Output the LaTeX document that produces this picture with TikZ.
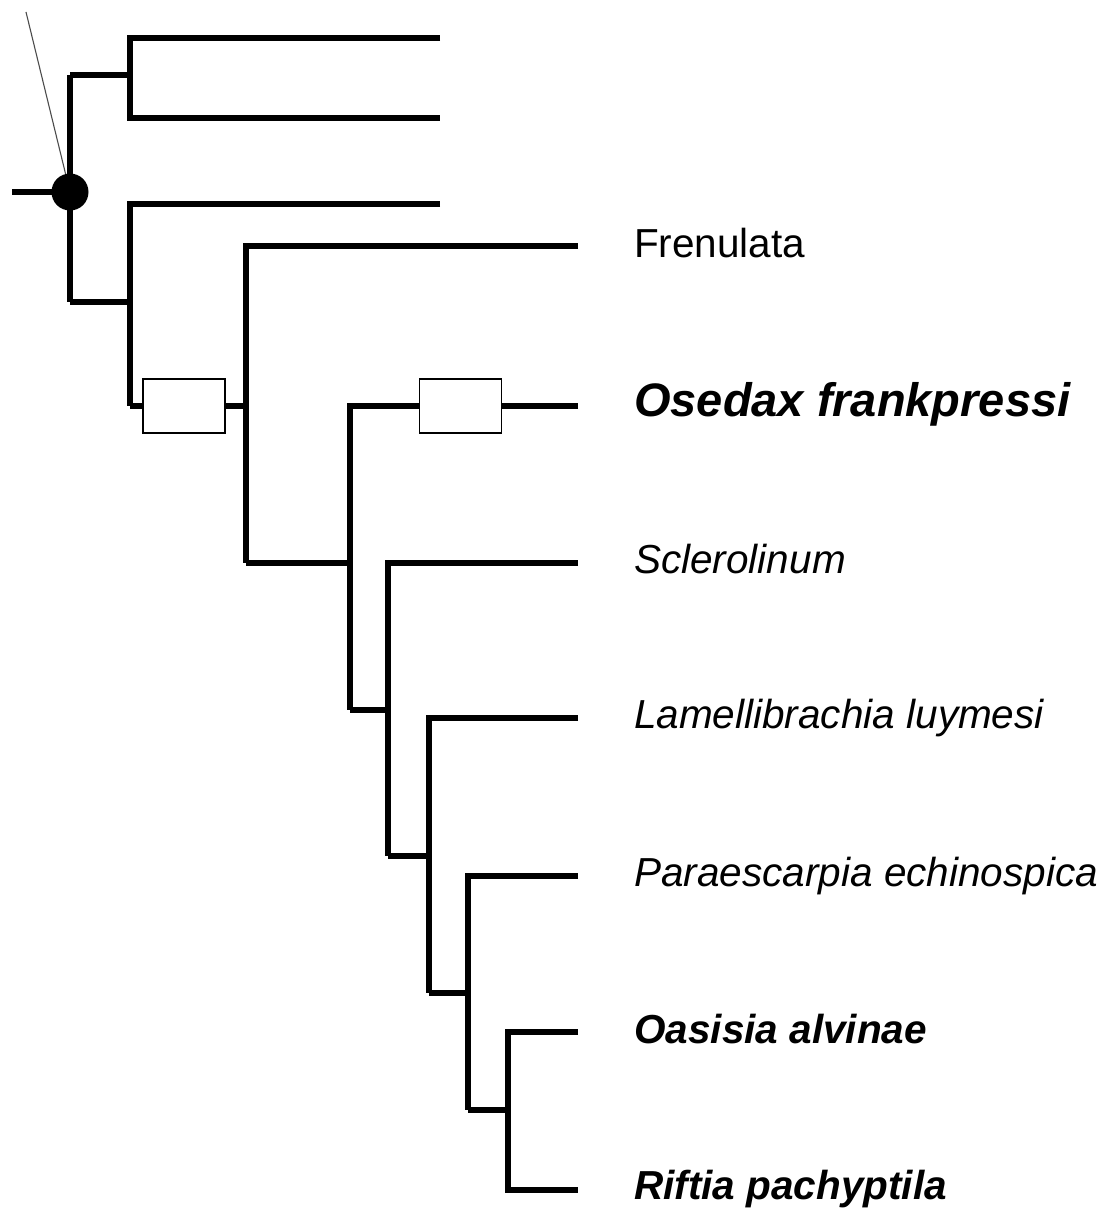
\documentclass[tikz,border=0pt]{standalone}
\usepackage{fontspec}
\setmainfont{Liberation Sans}
\begin{document}
\begin{tikzpicture}[x=1pt,y=-1pt,
  br/.style={line width=5.3pt,line join=miter,line cap=butt},
  lab/.style={anchor=base west,inner sep=0pt,font=\fontsize{40.5}{46}\selectfont},
  bigl/.style={anchor=base west,inner sep=0pt,font=\fontsize{47}{54}\selectfont\bfseries\itshape},
  charbox/.style={draw,line width=1.4pt,fill=white,minimum width=82pt,minimum height=54pt,inner sep=0pt},
  pointer/.style={line width=1.1pt,draw=black!70}]
\useasboundingbox (0,0) rectangle (1101,1209);
% internal nodes
\coordinate (R) at (70,192);
\coordinate (A) at (130,75);
\coordinate (B) at (130,302);
\coordinate (C) at (246,406);
\coordinate (D) at (350,563);
\coordinate (E) at (388,710);
\coordinate (F) at (429,856);
\coordinate (G) at (468,993);
\coordinate (H) at (508,1110);
\coordinate (stub) at (12,192);
\coordinate (ptr) at (26,12);
% tips
\coordinate (tA1) at (440,38);
\coordinate (tA2) at (440,118);
\coordinate (tB1) at (440,204);
\coordinate (tFre) at (578,246);
\coordinate (tOse) at (578,406);
\coordinate (tScl) at (578,563);
\coordinate (tLam) at (578,718);
\coordinate (tPar) at (578,876);
\coordinate (tOas) at (578,1032);
\coordinate (tRif) at (578,1190);
% pointer line
\draw[pointer] (ptr) -- (R);
% branches
\draw[br] (stub) -- (R);
\draw[br] (R |- A) -- (R |- B);
\draw[br] (R |- A) -- (A);
\draw[br] (R |- B) -- (B);
\draw[br] (tA1) -| (A) |- (tA2);
\draw[br] (tB1) -| (B |- C);
\draw[br] (B |- C) -- (C);
\draw[br] (tFre) -| (C |- D);
\draw[br] (C |- D) -- (D);
\draw[br] (tOse) -| (D |- E);
\draw[br] (D |- E) -- (E);
\draw[br] (tScl) -| (E |- F);
\draw[br] (E |- F) -- (F);
\draw[br] (tLam) -| (F |- G);
\draw[br] (F |- G) -- (G);
\draw[br] (tPar) -| (G |- H);
\draw[br] (G |- H) -- (H);
\draw[br] (tOas) -| (H) |- (tRif);
% root dot
\node[circle,fill=black,minimum size=37pt,inner sep=0pt] (root) at (R) {};
% character boxes
\node[charbox] (box1) at (184,406) {};
\node[charbox] (box2) at (460.5,406) {};
% labels
\node[lab] (lFre) at (634,257) {Frenulata};
\node[bigl] (lOse) at (634,416) {Osedax frankpressi};
\node[lab,font=\fontsize{40.5}{46}\selectfont\itshape] (lScl) at (634,573) {Sclerolinum};
\node[lab,font=\fontsize{40.5}{46}\selectfont\itshape] (lLam) at (634,728) {Lamellibrachia luymesi};
\node[lab,font=\fontsize{40.5}{46}\selectfont\itshape] (lPar) at (634,886) {Paraescarpia echinospica};
\node[lab,font=\fontsize{40.5}{46}\selectfont\bfseries\itshape] (lOas) at (634,1043) {Oasisia alvinae};
\node[lab,font=\fontsize{40.5}{46}\selectfont\bfseries\itshape] (lRif) at (634,1199) {Riftia pachyptila};
\end{tikzpicture}
\end{document}
